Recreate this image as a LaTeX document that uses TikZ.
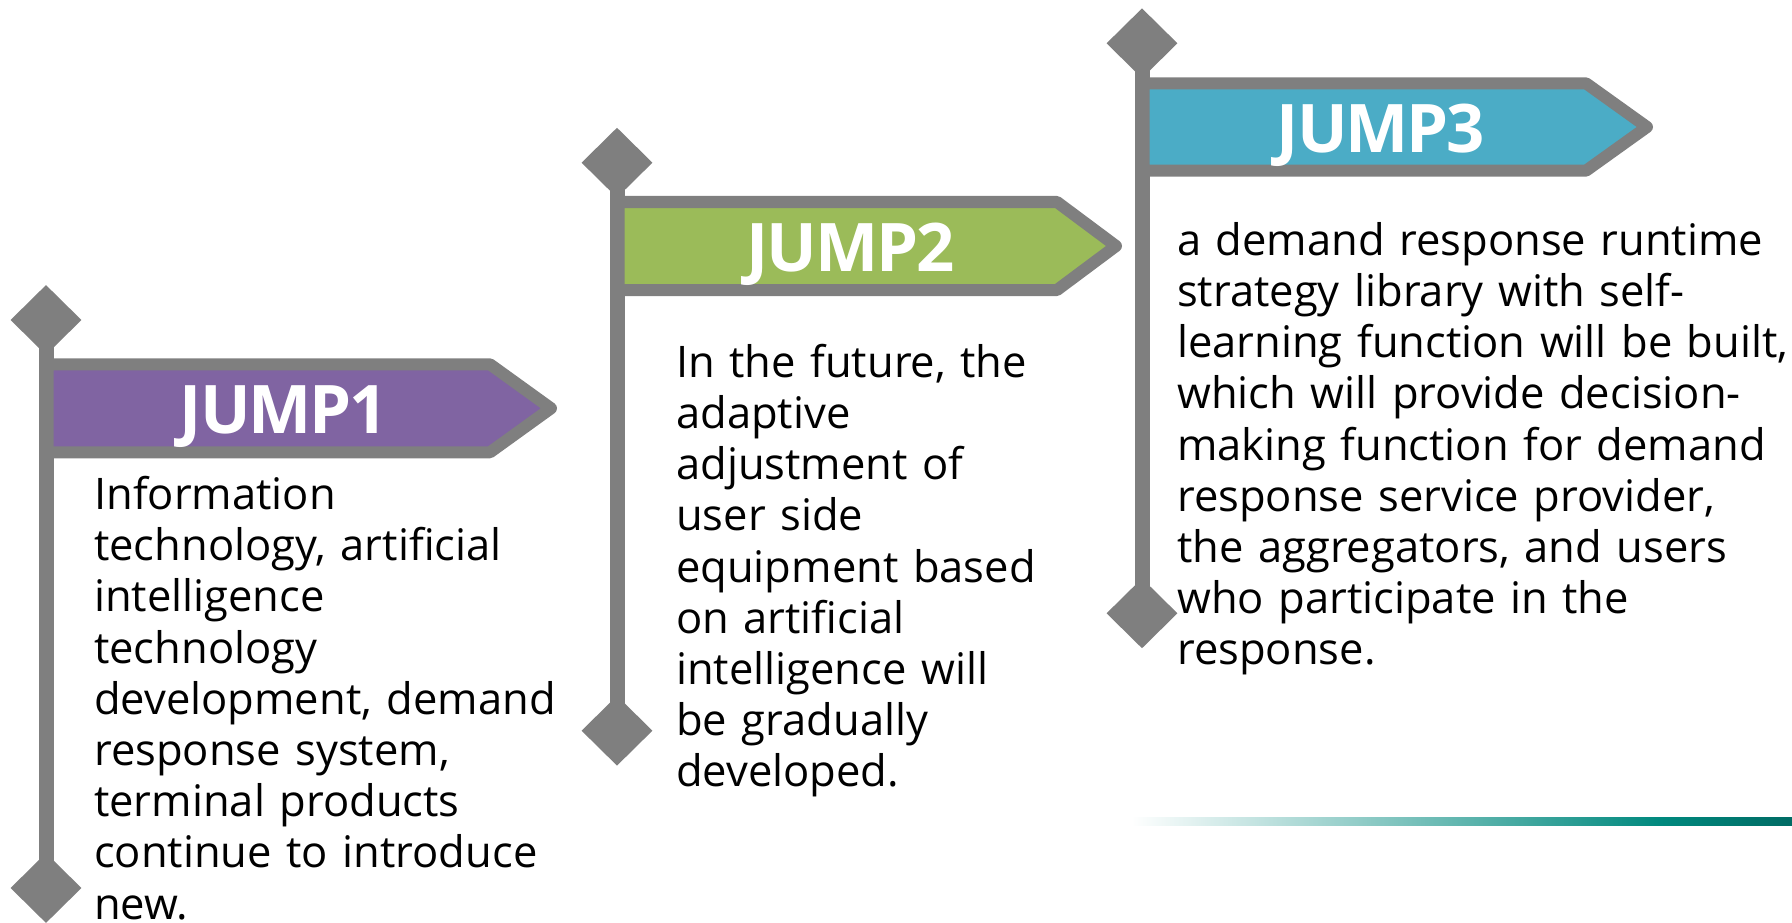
\documentclass[tikz,border=0pt]{standalone}
\usepackage{fontspec}
\setmainfont{Open Sans}
\newfontfamily\signfont[LetterSpace=-3]{Open Sans}
\usetikzlibrary{shapes.geometric}
\definecolor{postgray}{HTML}{7F7F7F}
\definecolor{jumpA}{HTML}{8064A2}
\definecolor{jumpB}{HTML}{9BBB59}
\definecolor{jumpC}{HTML}{4BACC6}
\definecolor{tealA}{HTML}{00897E}
\definecolor{tealB}{HTML}{006B64}

\begin{document}
\begin{tikzpicture}[x=1pt,y=-1pt,
  knob/.style={diamond, fill=postgray, draw=none, minimum width=71pt, minimum height=70pt, inner sep=0pt},
  pole/.style={draw=postgray, line width=15pt},
  flag/.style={draw=postgray, line width=12pt, line join=round},
  jumplabel/.style={font=\signfont\fontsize{67}{70}\selectfont\bfseries, text=white, inner sep=0pt, anchor=base},
  body/.style={font=\fontsize{43.5}{51.2}\selectfont, text width=720pt, align=left, inner sep=0pt, anchor=base west}
]
\useasboundingbox (0,0) rectangle (1792,923);

% --- post 1 ---
\node[knob] (k1t) at (46,320) {};
\node[knob] (k1b) at (46,888) {};
\draw[pole] (k1t.center) -- (k1b.center);
\draw[flag, fill=jumpA] (47.5,364.3) -- (490,364.3) -- (551,408.3) -- (490,452.3) -- (47.5,452.3) -- cycle;
\node[jumplabel] (j1) at (284,433.3) {JUMP1};
\node[body] (t1) at (94,509.5) {Information\\ technology, artificial\\ intelligence\\ technology\\ development, demand\\ response system,\\ terminal products\\ continue to introduce\\ new.};

% --- post 2 ---
\node[knob] (k2t) at (617,162.7) {};
\node[knob] (k2b) at (617,730.7) {};
\draw[pole] (k2t.center) -- (k2b.center);
\draw[flag, fill=jumpB] (618.5,202) -- (1057,202) -- (1116,246) -- (1057,290) -- (618.5,290) -- cycle;
\node[jumplabel] (j2) at (850.6,271.7) {JUMP2};
\node[body] (t2) at (676,377.3) {In the future, the\\ adaptive\\ adjustment of\\ user side\\ equipment based\\ on artificial\\ intelligence will\\ be gradually\\ developed.};

% --- post 3 ---
\node[knob] (k3t) at (1142,43.3) {};
\node[knob] (k3b) at (1142,613.3) {};
\draw[pole] (k3t.center) -- (k3b.center);
\draw[flag, fill=jumpC] (1143.5,83.3) -- (1586,83.3) -- (1647,127) -- (1586,170.7) -- (1143.5,170.7) -- cycle;
\node[jumplabel] (j3) at (1381,152.7) {JUMP3};
\node[body] (t3) at (1177,255.4) {a demand response runtime\\ strategy library with self-\\ learning function will be built,\\ which will provide decision-\\ making function for demand\\ response service provider,\\ the aggregators, and users\\ who participate in the\\ response.};

% --- fading rule at the lower right ---
\shade[left color=white, right color=tealA] (1131,817) rectangle (1660,825);
\shade[left color=tealA, right color=tealB] (1660,817) rectangle (1792,825);
\end{tikzpicture}
\end{document}
